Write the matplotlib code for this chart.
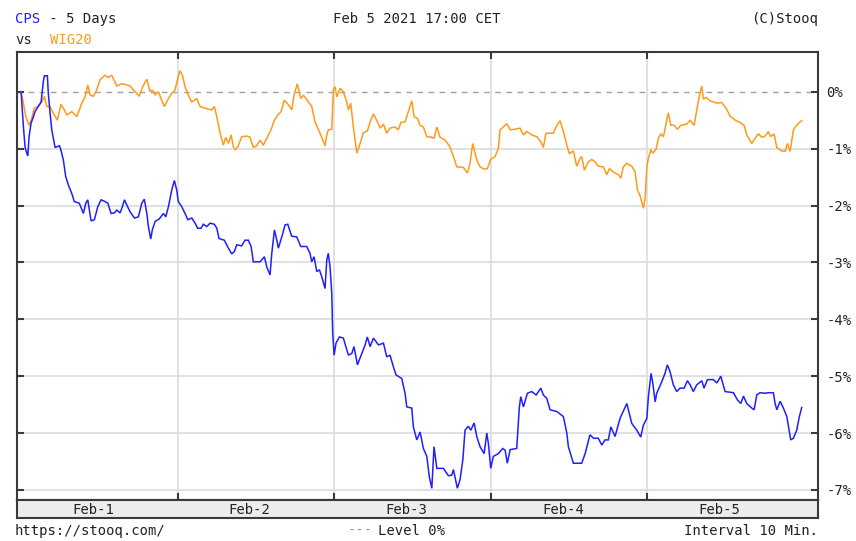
import matplotlib
matplotlib.use("Agg")
import matplotlib.pyplot as plt
from matplotlib.ticker import FixedLocator, NullFormatter

# ---- data (time in trading days from Feb-1 open, value in %) ----
cps_t = [0.000, 0.015, 0.026, 0.043, 0.051, 0.064, 0.079, 0.089, 0.110, 0.128, 0.142, 0.149, 0.168, 0.174,
         0.185, 0.196, 0.217, 0.245, 0.254, 0.270, 0.285, 0.302, 0.324, 0.340, 0.372, 0.398, 0.413, 0.426,
         0.447, 0.468, 0.490, 0.511, 0.536, 0.554, 0.575, 0.596, 0.611, 0.632, 0.647, 0.660, 0.675, 0.696,
         0.724, 0.749, 0.771, 0.787, 0.803, 0.813, 0.828, 0.838, 0.856, 0.881, 0.909, 0.924, 0.941, 0.962,
         0.979, 0.994, 1.004,
         1.026, 1.047, 1.065, 1.090, 1.111, 1.128, 1.149, 1.164, 1.186, 1.207, 1.234, 1.250, 1.264, 1.298,
         1.324, 1.345, 1.362, 1.377, 1.409, 1.430, 1.451, 1.469, 1.483, 1.526, 1.554, 1.569, 1.590, 1.601,
         1.618, 1.633, 1.643, 1.665, 1.686, 1.703, 1.728, 1.760, 1.786, 1.824, 1.845, 1.856, 1.871, 1.888,
         1.905, 1.920, 1.941, 1.952, 1.962, 1.973, 1.984, 1.990, 1.999,
         2.011, 2.033, 2.058, 2.080, 2.090, 2.112, 2.126, 2.148, 2.176, 2.197, 2.211, 2.229, 2.250, 2.282,
         2.314, 2.335, 2.356, 2.377, 2.395, 2.431, 2.452, 2.463, 2.495, 2.505, 2.527, 2.548, 2.569, 2.591,
         2.607, 2.623, 2.637, 2.655, 2.697, 2.729, 2.750, 2.761, 2.786, 2.803, 2.821, 2.835, 2.856, 2.872,
         2.893, 2.910, 2.931, 2.957, 2.974, 2.984, 2.999,
         3.016, 3.048, 3.076, 3.091, 3.105, 3.123, 3.165, 3.182, 3.191, 3.208, 3.233, 3.261, 3.289, 3.319,
         3.335, 3.357, 3.378, 3.421, 3.463, 3.485, 3.495, 3.527, 3.580, 3.602, 3.633, 3.655, 3.686, 3.708,
         3.729, 3.750, 3.766, 3.793, 3.825, 3.868, 3.900, 3.932, 3.957, 3.974, 3.996,
         4.006, 4.023, 4.034, 4.049, 4.059, 4.091, 4.112, 4.127, 4.144, 4.165, 4.187, 4.208, 4.234, 4.255,
         4.272, 4.293, 4.315, 4.347, 4.361, 4.383, 4.421, 4.443, 4.468, 4.496, 4.549, 4.575, 4.596, 4.613,
         4.634, 4.666, 4.681, 4.698, 4.719, 4.751, 4.772, 4.804, 4.815, 4.826, 4.847, 4.868, 4.890, 4.915,
         4.932, 4.953, 4.970, 4.985]
cps_v = [0.00, -0.62, -0.99, -1.13, -0.79, -0.55, -0.44, -0.35, -0.26, -0.18, 0.18, 0.28, 0.28, -0.03,
         -0.37, -0.67, -0.98, -0.95, -1.02, -1.20, -1.49, -1.64, -1.79, -1.93, -1.96, -2.14, -1.96, -1.90,
         -2.27, -2.25, -2.02, -1.90, -1.93, -1.96, -2.14, -2.13, -2.08, -2.13, -2.02, -1.90, -1.99, -2.11,
         -2.22, -2.20, -1.96, -1.89, -2.14, -2.37, -2.59, -2.43, -2.28, -2.24, -2.14, -2.20, -2.02, -1.73,
         -1.56, -1.73, -1.93,
         -2.02, -2.14, -2.25, -2.22, -2.31, -2.40, -2.40, -2.33, -2.37, -2.31, -2.33, -2.40, -2.58, -2.61,
         -2.75, -2.85, -2.81, -2.69, -2.71, -2.61, -2.61, -2.72, -2.99, -2.99, -2.90, -3.08, -3.22, -2.84,
         -2.43, -2.61, -2.75, -2.55, -2.34, -2.33, -2.54, -2.55, -2.72, -2.72, -2.84, -2.99, -2.90, -3.16,
         -3.13, -3.25, -3.46, -2.96, -2.84, -3.08, -3.54, -4.25, -4.63,
         -4.42, -4.31, -4.33, -4.54, -4.63, -4.60, -4.48, -4.80, -4.60, -4.45, -4.31, -4.48, -4.33, -4.45,
         -4.42, -4.66, -4.63, -4.83, -4.98, -5.04, -5.30, -5.54, -5.56, -5.89, -6.12, -5.98, -6.27, -6.41,
         -6.77, -6.97, -6.24, -6.62, -6.62, -6.75, -6.74, -6.64, -6.97, -6.82, -6.47, -5.95, -5.88, -5.95,
         -5.82, -6.06, -6.24, -6.36, -6.00, -6.18, -6.62,
         -6.41, -6.36, -6.27, -6.30, -6.53, -6.29, -6.27, -5.54, -5.36, -5.54, -5.30, -5.27, -5.33, -5.21,
         -5.33, -5.39, -5.59, -5.62, -5.71, -6.00, -6.24, -6.53, -6.53, -6.36, -6.03, -6.09, -6.09, -6.21,
         -6.12, -6.12, -5.89, -6.06, -5.74, -5.48, -5.83, -5.95, -6.07, -5.86, -5.74,
         -5.36, -4.95, -5.12, -5.45, -5.30, -5.10, -4.95, -4.80, -4.92, -5.15, -5.27, -5.21, -5.21, -5.08,
         -5.15, -5.27, -5.15, -5.08, -5.21, -5.06, -5.06, -5.12, -5.00, -5.27, -5.29, -5.42, -5.48, -5.35,
         -5.48, -5.56, -5.59, -5.33, -5.29, -5.30, -5.29, -5.29, -5.48, -5.59, -5.44, -5.56, -5.71, -6.12,
         -6.09, -5.95, -5.71, -5.55]

wig_t = [0.000, 0.015, 0.030, 0.051, 0.068, 0.083, 0.107, 0.132, 0.149, 0.164, 0.185, 0.206, 0.232, 0.255,
         0.277, 0.292, 0.324, 0.356, 0.388, 0.409, 0.426, 0.441, 0.462, 0.483, 0.504, 0.536, 0.557, 0.579,
         0.611, 0.643, 0.675, 0.696, 0.728, 0.754, 0.777, 0.803, 0.824, 0.838, 0.856, 0.877, 0.898, 0.915,
         0.941, 0.962, 0.983,
         1.001, 1.015, 1.030, 1.047, 1.068, 1.090, 1.122, 1.143, 1.175, 1.218, 1.234, 1.250, 1.271, 1.292,
         1.307, 1.324, 1.341, 1.356, 1.367, 1.384, 1.409, 1.441, 1.462, 1.483, 1.505, 1.526, 1.547, 1.569,
         1.596, 1.618, 1.639, 1.660, 1.681, 1.707, 1.729, 1.743, 1.764, 1.786, 1.803, 1.835, 1.856, 1.877,
         1.905, 1.927, 1.941, 1.952, 1.962, 1.984, 1.994,
         2.005, 2.016, 2.037, 2.058, 2.080, 2.090, 2.105, 2.122, 2.144, 2.165, 2.186, 2.211, 2.229, 2.250,
         2.276, 2.293, 2.314, 2.335, 2.356, 2.388, 2.409, 2.425, 2.452, 2.473, 2.495, 2.510, 2.531, 2.548,
         2.569, 2.591, 2.623, 2.637, 2.655, 2.676, 2.708, 2.739, 2.761, 2.782, 2.824, 2.850, 2.867, 2.884,
         2.899, 2.914, 2.931, 2.957, 2.978, 2.999,
         3.027, 3.048, 3.059, 3.080, 3.102, 3.123, 3.155, 3.186, 3.208, 3.229, 3.261, 3.293, 3.319, 3.335,
         3.352, 3.399, 3.421, 3.442, 3.463, 3.485, 3.501, 3.527, 3.548, 3.570, 3.580, 3.597, 3.623, 3.644,
         3.665, 3.686, 3.718, 3.740, 3.757, 3.782, 3.814, 3.830, 3.846, 3.868, 3.900, 3.921, 3.936, 3.953,
         3.974, 3.985, 3.996,
         4.006, 4.021, 4.034, 4.055, 4.070, 4.085, 4.102, 4.119, 4.133, 4.149, 4.170, 4.191, 4.213, 4.251,
         4.272, 4.298, 4.315, 4.331, 4.347, 4.357, 4.375, 4.400, 4.443, 4.474, 4.502, 4.528, 4.560, 4.591,
         4.617, 4.634, 4.666, 4.687, 4.708, 4.730, 4.751, 4.772, 4.787, 4.808, 4.826, 4.857, 4.879, 4.894,
         4.911, 4.932, 4.949, 4.970, 4.985]
wig_v = [0.00, -0.20, -0.44, -0.59, -0.47, -0.29, -0.26, -0.18, -0.08, -0.26, -0.26, -0.38, -0.50, -0.22,
         -0.32, -0.41, -0.35, -0.44, -0.20, -0.09, 0.12, -0.06, -0.08, 0.03, 0.21, 0.29, 0.25, 0.29,
         0.10, 0.14, 0.12, 0.10, 0.00, -0.08, 0.09, 0.22, 0.00, 0.03, -0.06, 0.00, -0.15, -0.26,
         -0.12, -0.03, 0.03,
         0.24, 0.37, 0.29, 0.09, -0.06, -0.18, -0.12, -0.26, -0.29, -0.32, -0.26, -0.44, -0.73, -0.94,
         -0.80, -0.91, -0.76, -0.97, -1.02, -0.97, -0.79, -0.78, -0.80, -0.98, -0.95, -0.85, -0.94, -0.82,
         -0.67, -0.50, -0.41, -0.35, -0.15, -0.23, -0.32, -0.06, 0.14, -0.12, -0.06, -0.18, -0.26, -0.53,
         -0.70, -0.85, -0.95, -0.76, -0.67, -0.66, 0.03,
         0.09, -0.09, 0.06, 0.00, -0.18, -0.32, -0.20, -0.62, -1.08, -0.91, -0.72, -0.69, -0.53, -0.39,
         -0.53, -0.64, -0.57, -0.73, -0.64, -0.62, -0.67, -0.54, -0.53, -0.35, -0.16, -0.44, -0.47, -0.59,
         -0.62, -0.79, -0.80, -0.82, -0.62, -0.80, -0.85, -0.97, -1.14, -1.32, -1.33, -1.43, -1.26, -0.91,
         -1.08, -1.23, -1.32, -1.36, -1.35, -1.19,
         -1.14, -0.99, -0.67, -0.62, -0.56, -0.67, -0.66, -0.64, -0.76, -0.70, -0.76, -0.79, -0.88, -0.98,
         -0.73, -0.73, -0.59, -0.51, -0.70, -0.94, -1.09, -1.04, -1.31, -1.17, -1.14, -1.38, -1.23, -1.19,
         -1.23, -1.31, -1.32, -1.46, -1.35, -1.41, -1.46, -1.52, -1.32, -1.26, -1.31, -1.41, -1.73, -1.83,
         -2.05, -1.87, -1.32,
         -1.17, -1.02, -1.08, -1.01, -0.82, -0.74, -0.79, -0.56, -0.37, -0.59, -0.59, -0.66, -0.59, -0.57,
         -0.50, -0.59, -0.32, -0.08, 0.10, -0.13, -0.10, -0.16, -0.20, -0.19, -0.29, -0.43, -0.50, -0.54,
         -0.59, -0.76, -0.91, -0.82, -0.74, -0.80, -0.78, -0.70, -0.79, -0.74, -0.98, -1.04, -1.05, -0.91,
         -1.05, -0.67, -0.60, -0.54, -0.51]

day_labels = ["Feb-1", "Feb-2", "Feb-3", "Feb-4", "Feb-5"]
day_bounds = [1, 2, 3, 4]
pct_levels = [0, -1, -2, -3, -4, -5, -6, -7]
pct_labels = ["0%", "-1%", "-2%", "-3%", "-4%", "-5%", "-6%", "-7%"]

# ---- layout ----
W, H = 856, 541
fig = plt.figure(figsize=(W / 100, H / 100), dpi=100)
fig.patch.set_facecolor("white")
FONT = "DejaVu Sans Mono"
FS = 10

def fx(px):
    return px / W

def fy(py):
    return 1 - py / H

left, right, top, bottom, band_bottom = 17, 818, 52, 500, 518
ax = fig.add_axes([fx(left), fy(bottom), fx(right - left), (bottom - top) / H])
band = fig.add_axes([fx(left), fy(band_bottom), fx(right - left), (band_bottom - bottom) / H])

XMIN, XMAX = -0.026, 5.089
YMIN, YMAX = -7.176, 0.698

SPINE = "#3a3a3a"
GRID = "#dcdcdc"

ax.set_xlim(XMIN, XMAX)
ax.set_ylim(YMIN, YMAX)

for lv in pct_levels:
    if lv == 0:
        ax.axhline(lv, color="#a0a0a0", lw=1.0, ls=(0, (4, 4)), zorder=1)
    else:
        ax.axhline(lv, color=GRID, lw=1.2, zorder=1)
for b in day_bounds:
    ax.axvline(b, color=GRID, lw=1.2, zorder=1)

ax.plot(wig_t, wig_v, color="#ff9a1a", lw=1.1, zorder=3, solid_joinstyle="miter")
ax.plot(cps_t, cps_v, color="#1f1fff", lw=1.1, zorder=4, solid_joinstyle="miter")

for s in ax.spines.values():
    s.set_color(SPINE)
    s.set_linewidth(1.5)

ax.yaxis.set_major_locator(FixedLocator(pct_levels))
ax.xaxis.set_major_locator(FixedLocator(day_bounds))
ax.tick_params(axis="y", which="both", direction="in", length=5, width=1.5, color=SPINE,
               left=True, right=True, labelleft=False, labelright=True,
               labelsize=FS, pad=6)
ax.tick_params(axis="x", which="both", direction="in", length=5, width=1.5, color=SPINE,
               top=True, bottom=True, labelbottom=False, labeltop=False)
ax.set_yticklabels(pct_labels, fontfamily=FONT, color="#222222")

band.set_xlim(XMIN, XMAX)
band.set_ylim(0, 1)
band.set_facecolor("#ececec")
band.set_xticks([])
band.set_yticks([])
for s in band.spines.values():
    s.set_color(SPINE)
    s.set_linewidth(1.5)
for i, lab in enumerate(day_labels):
    band.text(i + 0.46, 0.45, lab, ha="center", va="center", fontsize=FS,
              fontfamily=FONT, color="#222222")

# header / footer texts
fig.text(fx(15), fy(19), "CPS", color="#1f1fff", fontsize=FS, fontfamily=FONT, va="center", ha="left")
fig.text(fx(15 + 3 * 8.8), fy(19), " - 5 Days", color="#222222", fontsize=FS, fontfamily=FONT,
         va="center", ha="left")
fig.text(fx(15), fy(40), "vs", color="#222222", fontsize=FS, fontfamily=FONT, va="center", ha="left")
fig.text(fx(50), fy(40), "WIG20", color="#ff9a1a", fontsize=FS, fontfamily=FONT, va="center", ha="left")
fig.text(fx(417), fy(19), "Feb 5 2021 17:00 CET", color="#222222", fontsize=FS, fontfamily=FONT,
         va="center", ha="center")
fig.text(fx(818), fy(19), "(C)Stooq", color="#222222", fontsize=FS, fontfamily=FONT,
         va="center", ha="right")
fig.text(fx(15), fy(531), "https://stooq.com/", color="#222222", fontsize=FS, fontfamily=FONT,
         va="center", ha="left")
fig.text(fx(348), fy(531), "---", color="#9a9a9a", fontsize=FS, fontfamily=FONT,
         va="center", ha="left")
fig.text(fx(378), fy(531), "Level 0%", color="#222222", fontsize=FS, fontfamily=FONT,
         va="center", ha="left")
fig.text(fx(818), fy(531), "Interval 10 Min.", color="#222222", fontsize=FS, fontfamily=FONT,
         va="center", ha="right")

fig.savefig("out.png", dpi=100, facecolor="white")
